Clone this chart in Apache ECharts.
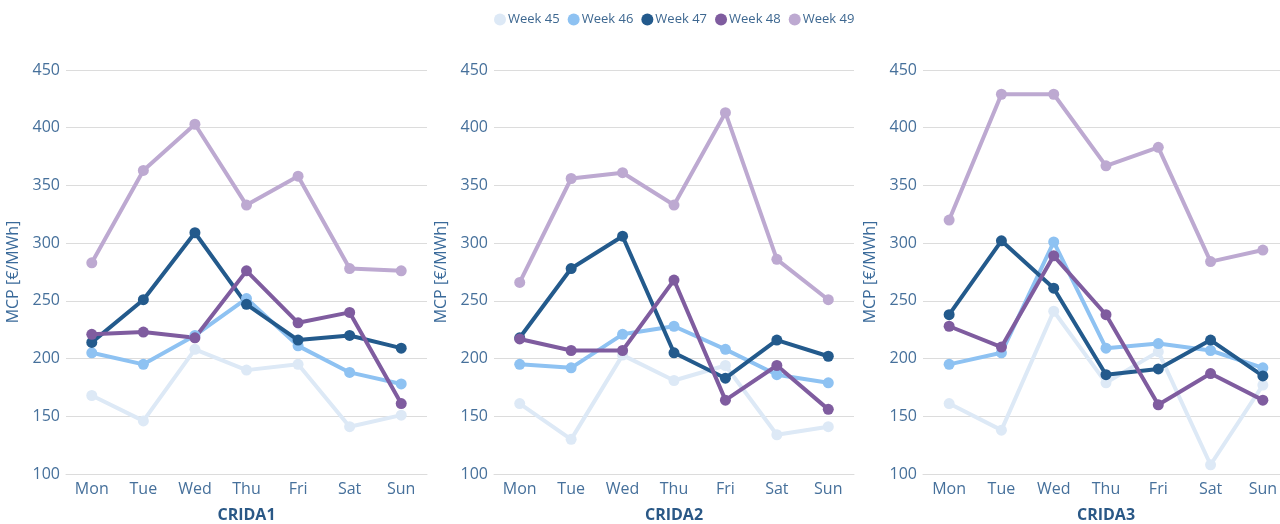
<!DOCTYPE html>
<html>
<head>
<meta charset="utf-8">
<script src="https://cdn.jsdelivr.net/npm/echarts@6/dist/echarts.min.js"></script>
<style>
  html, body { margin: 0; padding: 0; background: #fff; }
  #main { width: 1280px; height: 524px; }
</style>
</head>
<body>
<div id="main"></div>
<script>
// 数据
var days = ['Mon', 'Tue', 'Wed', 'Thu', 'Fri', 'Sat', 'Sun'];
var weeks = ['Week 45', 'Week 46', 'Week 47', 'Week 48', 'Week 49'];
var panels = ['CRIDA1', 'CRIDA2', 'CRIDA3'];
var yTicks = [100, 450, 50]; // min, max, interval

var crida1Week45 = [168, 146, 208, 190, 195, 141, 151];
var crida1Week46 = [205, 195, 220, 252, 211, 188, 178];
var crida1Week47 = [214, 251, 309, 247, 216, 220, 209];
var crida1Week48 = [221, 223, 218, 276, 231, 240, 161];
var crida1Week49 = [283, 363, 403, 333, 358, 278, 276];

var crida2Week45 = [161, 130, 203, 181, 194, 134, 141];
var crida2Week46 = [195, 192, 221, 228, 208, 186, 179];
var crida2Week47 = [218, 278, 306, 205, 183, 216, 202];
var crida2Week48 = [217, 207, 207, 268, 164, 194, 156];
var crida2Week49 = [266, 356, 361, 333, 413, 286, 251];

var crida3Week45 = [161, 138, 241, 179, 206, 108, 177];
var crida3Week46 = [195, 205, 301, 209, 213, 207, 192];
var crida3Week47 = [238, 302, 261, 186, 191, 216, 185];
var crida3Week48 = [228, 210, 289, 238, 160, 187, 164];
var crida3Week49 = [320, 429, 429, 367, 383, 284, 294];

var seriesColors = ['#dde9f6', '#8ec2f2', '#235a8c', '#7f5c9f', '#bda9d1'];
var panelData = [
    [crida1Week45, crida1Week46, crida1Week47, crida1Week48, crida1Week49],
    [crida2Week45, crida2Week46, crida2Week47, crida2Week48, crida2Week49],
    [crida3Week45, crida3Week46, crida3Week47, crida3Week48, crida3Week49]
];

var font = '"Open Sans", "Noto Sans", sans-serif';
var labelColor = '#46709b';

var grids = [
    { left: 66, width: 361, top: 70, height: 404, outerBoundsMode: 'none' },
    { left: 494, width: 360, top: 70, height: 404, outerBoundsMode: 'none' },
    { left: 923, width: 366, top: 70, height: 404, outerBoundsMode: 'none' }
];

var xAxes = [], yAxes = [], series = [];
panels.forEach(function (name, i) {
    xAxes.push({
        type: 'category',
        gridIndex: i,
        data: days,
        boundaryGap: true,
        name: name,
        nameLocation: 'middle',
        nameGap: 33,
        nameTextStyle: { color: '#2a5886', fontWeight: 'bold', fontSize: 16, fontFamily: font },
        axisLine: { lineStyle: { color: '#dcdcdc' } },
        axisTick: { show: false },
        axisLabel: { color: labelColor, fontSize: 16, fontFamily: font, margin: 7 }
    });
    yAxes.push({
        type: 'value',
        gridIndex: i,
        min: yTicks[0],
        max: yTicks[1],
        interval: yTicks[2],
        name: 'MCP [€/MWh]',
        nameLocation: 'middle',
        nameGap: 45,
        nameTextStyle: { color: '#3a6a9a', fontSize: 16, fontFamily: font },
        axisLine: { show: false },
        axisTick: { show: false },
        axisLabel: { color: labelColor, fontSize: 16, fontFamily: font, margin: 6 },
        splitLine: { lineStyle: { color: '#dcdcdc' } }
    });
    panelData[i].forEach(function (vals, k) {
        series.push({
            name: weeks[k],
            type: 'line',
            xAxisIndex: i,
            yAxisIndex: i,
            data: vals,
            symbol: 'circle',
            symbolSize: 11,
            lineStyle: { width: 4, color: seriesColors[k] },
            itemStyle: { color: seriesColors[k] },
            emphasis: { disabled: true }
        });
    });
});

var myChart = echarts.init(document.getElementById('main'));
var option = {
    animation: false,
    color: seriesColors,
    legend: {
        data: weeks,
        top: 8,
        left: 489,
        icon: 'circle',
        itemWidth: 12,
        itemHeight: 12,
        itemGap: 8,
        textStyle: { color: '#3d6790', fontSize: 13, fontFamily: font, padding: [0, 0, 0, -3] }
    },
    grid: grids,
    xAxis: xAxes,
    yAxis: yAxes,
    series: series
};
myChart.setOption(option);

window.onresize = function () {
    myChart.resize();
};
</script>
</body>
</html>
